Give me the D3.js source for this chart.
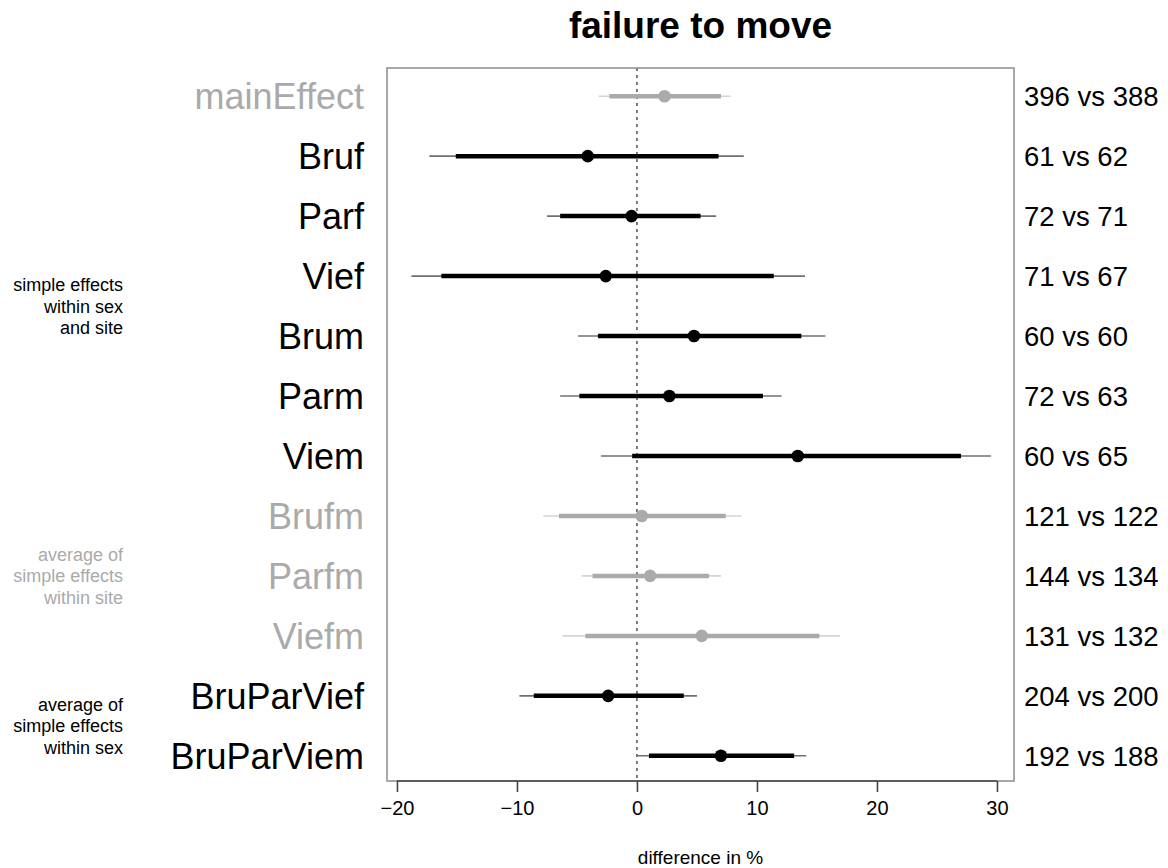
<!DOCTYPE html>
<html lang="en">
<head>
<meta charset="utf-8">
<script src="https://d3js.org/d3.v7.min.js"></script>
<style>
  body { margin: 0; background: #fff; }
  text { font-family: "Liberation Sans", Arial, Helvetica, sans-serif; }
</style>
</head>
<body>
<script>
var width = 1168;
var height = 868;

// one row per comparison, top to bottom
var rowNames = ["mainEffect", "Bruf", "Parf", "Vief", "Brum", "Parm", "Viem",
                "Brufm", "Parfm", "Viefm", "BruParVief", "BruParViem"];
var estimate = [2.3, -4.1, -0.45, -2.6, 4.75, 2.7, 13.4, 0.4, 1.1, 5.4, -2.4, 7.0];
var innerLo  = [-2.3, -15.1, -6.4, -16.3, -3.25, -4.8, -0.4, -6.5, -3.7, -4.3, -8.6, 1.0];
var innerHi  = [7.0, 6.8, 5.3, 11.4, 13.7, 10.5, 27.0, 7.4, 6.0, 15.2, 3.9, 13.1];
var outerLo  = [-3.2, -17.3, -7.5, -18.8, -4.9, -6.4, -3.0, -7.8, -4.6, -6.2, -9.8, 0.05];
var outerHi  = [7.8, 8.9, 6.6, 14.0, 15.7, 12.05, 29.5, 8.7, 7.0, 16.9, 5.0, 14.1];
var counts   = ["396 vs 388", "61 vs 62", "72 vs 71", "71 vs 67", "60 vs 60", "72 vs 63",
                "60 vs 65", "121 vs 122", "144 vs 134", "131 vs 132", "204 vs 200", "192 vs 188"];
var greyRow  = [true, false, false, false, false, false, false, true, true, true, false, false];
var xTicks   = [-20, -10, 0, 10, 20, 30];

// group notes on the left: lines, first row, last row, grey?
var groupNotes = [
  { lines: ["simple effects", "within sex", "and site"], from: 1, to: 6, grey: false },
  { lines: ["average of", "simple effects", "within site"], from: 7, to: 9, grey: true },
  { lines: ["average of", "simple effects", "within sex"], from: 10, to: 11, grey: false }
];

var box = { left: 387, right: 1014, top: 68, bottom: 781 };

var x = d3.scaleLinear().domain([-20.83, 31.42]).range([box.left, box.right]);
var y = d3.scaleLinear().domain([-0.47, 11.42]).range([box.top, box.bottom]);

var svg = d3.select("body").append("svg")
            .attr("width", width)
            .attr("height", height);

var rows = rowNames.map(function(d, i) {
  return { name: d, i: i, est: estimate[i], ilo: innerLo[i], ihi: innerHi[i],
           olo: outerLo[i], ohi: outerHi[i], n: counts[i], grey: greyRow[i] };
});

// title
svg.append("text")
   .attr("x", (box.left + box.right) / 2)
   .attr("y", 38)
   .attr("text-anchor", "middle")
   .attr("font-size", 37)
   .attr("font-weight", "bold")
   .text("failure to move");

// zero reference line
svg.append("line")
   .attr("x1", x(0)).attr("x2", x(0))
   .attr("y1", box.top).attr("y2", box.bottom)
   .attr("stroke", "#222")
   .attr("stroke-width", 1.2)
   .attr("stroke-dasharray", "3,4");

// outer intervals (thin)
svg.selectAll(".outer").data(rows).enter().append("line")
   .attr("class", "outer")
   .attr("x1", function(d) { return x(d.olo); })
   .attr("x2", function(d) { return x(d.ohi); })
   .attr("y1", function(d) { return y(d.i); })
   .attr("y2", function(d) { return y(d.i); })
   .attr("stroke", function(d) { return d.grey ? "#d4d4d4" : "#707070"; })
   .attr("stroke-width", 1.6);

// inner intervals (thick)
svg.selectAll(".inner").data(rows).enter().append("line")
   .attr("class", "inner")
   .attr("x1", function(d) { return x(d.ilo); })
   .attr("x2", function(d) { return x(d.ihi); })
   .attr("y1", function(d) { return y(d.i); })
   .attr("y2", function(d) { return y(d.i); })
   .attr("stroke", function(d) { return d.grey ? "#aaaaaa" : "#000"; })
   .attr("stroke-width", 4.5);

// point estimates
svg.selectAll(".pt").data(rows).enter().append("circle")
   .attr("class", "pt")
   .attr("cx", function(d) { return x(d.est); })
   .attr("cy", function(d) { return y(d.i); })
   .attr("r", 6.3)
   .attr("fill", function(d) { return d.grey ? "#aaaaaa" : "#000"; });

// plot frame
svg.append("rect")
   .attr("x", box.left).attr("y", box.top)
   .attr("width", box.right - box.left)
   .attr("height", box.bottom - box.top)
   .attr("fill", "none")
   .attr("stroke", "#8c8c8c")
   .attr("stroke-width", 1.5);

// x axis
var xAxis = svg.append("g")
   .attr("transform", "translate(0," + box.bottom + ")")
   .call(d3.axisBottom(x).tickValues(xTicks).tickSize(11).tickSizeOuter(0).tickPadding(9));
xAxis.select(".domain")
   .attr("d", "M" + x(-20) + ",0H" + x(30))
   .attr("stroke", "#444")
   .attr("stroke-width", 1.6);
xAxis.selectAll(".tick line").attr("stroke", "#444").attr("stroke-width", 1.6);
xAxis.selectAll(".tick text")
   .attr("font-size", 20)
   .attr("fill", "#000")
   .style("font-family", "'Liberation Sans', Arial, Helvetica, sans-serif");

svg.append("text")
   .attr("x", (box.left + box.right) / 2)
   .attr("y", 864)
   .attr("text-anchor", "middle")
   .attr("font-size", 19)
   .text("difference in %");

// row labels left
svg.selectAll(".rowlab").data(rows).enter().append("text")
   .attr("class", "rowlab")
   .attr("x", 364)
   .attr("y", function(d) { return y(d.i); })
   .attr("dy", "0.36em")
   .attr("text-anchor", "end")
   .attr("font-size", 36)
   .attr("fill", function(d) { return d.grey ? "#aaaaaa" : "#000"; })
   .text(function(d) { return d.name; });

// sample sizes right
svg.selectAll(".nlab").data(rows).enter().append("text")
   .attr("class", "nlab")
   .attr("x", 1024)
   .attr("y", function(d) { return y(d.i); })
   .attr("dy", "0.36em")
   .attr("font-size", 27.5)
   .text(function(d) { return d.n; });

// group notes
groupNotes.forEach(function(g) {
  var mid = (y(g.from) + y(g.to)) / 2;
  var t = svg.append("text")
     .attr("text-anchor", "end")
     .attr("font-size", 18)
     .attr("fill", g.grey ? "#aaaaaa" : "#000");
  g.lines.forEach(function(line, k) {
    t.append("tspan")
     .attr("x", 123)
     .attr("y", mid + (k - 1) * 21.5)
     .attr("dy", "0.36em")
     .text(line);
  });
});
</script>
</body>
</html>
